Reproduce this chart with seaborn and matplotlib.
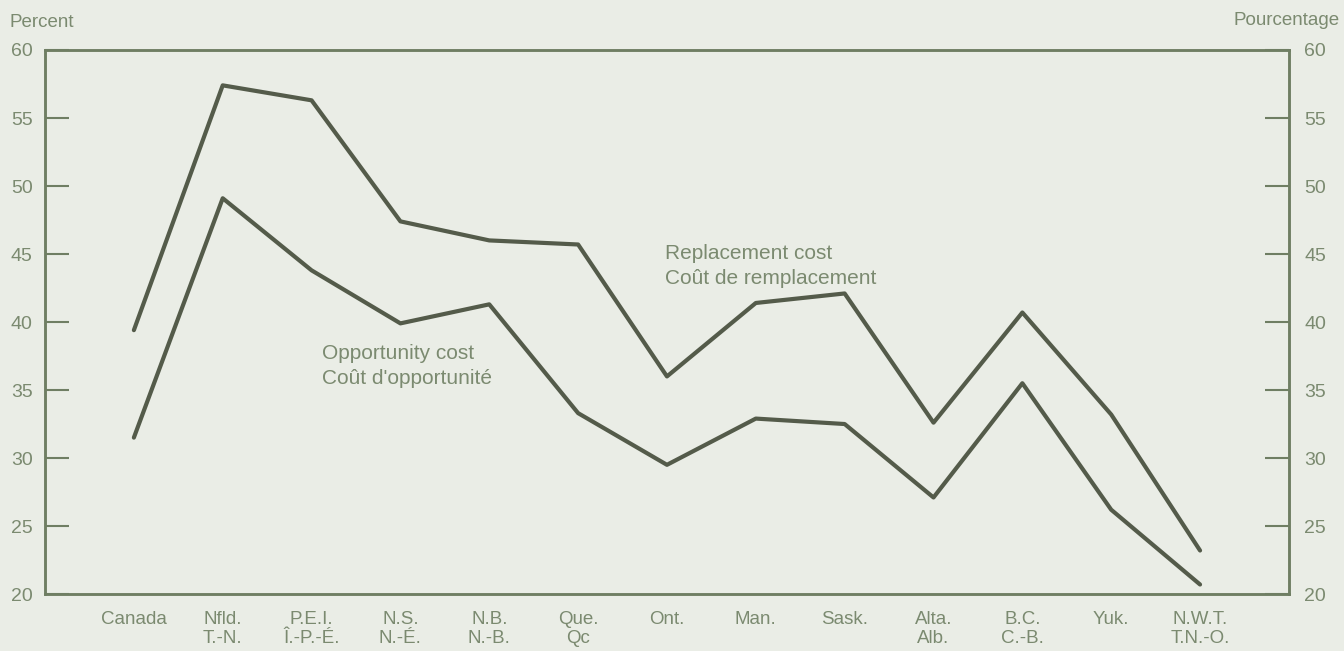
import pandas as pd
import seaborn as sns
import matplotlib.pyplot as plt

provinces = ["Canada", "Nfld.\nT.-N.", "P.E.I.\nÎ.-P.-É.", "N.S.\nN.-É.", "N.B.\nN.-B.",
             "Que.\nQc", "Ont.", "Man.", "Sask.", "Alta.\nAlb.", "B.C.\nC.-B.", "Yuk.",
             "N.W.T.\nT.N.-O."]
replacement_cost = [39.4, 57.4, 56.3, 47.4, 46.0, 45.7, 36.0, 41.4, 42.1, 32.6, 40.7, 33.2, 23.2]
opportunity_cost = [31.5, 49.1, 43.8, 39.9, 41.3, 33.3, 29.5, 32.9, 32.5, 27.1, 35.5, 26.2, 20.7]
y_ticks = [20, 25, 30, 35, 40, 45, 50, 55, 60]

BG = "#eaede6"
LINE = "#545b4a"
AXIS = "#6f7e63"
TEXT = "#7b8a70"

sns.set_theme(style="white")
plt.rcParams["font.family"] = ["Liberation Sans", "DejaVu Sans"]

df = pd.DataFrame({
    "pos": list(range(len(provinces))) * 2,
    "value": replacement_cost + opportunity_cost,
    "series": ["Replacement"] * len(provinces) + ["Opportunity"] * len(provinces),
})

fig = plt.figure(figsize=(13.44, 6.51), dpi=100, facecolor=BG)
ax = fig.add_axes([0.0335, 0.0875, 0.9255, 0.8357], facecolor=BG)

sns.lineplot(data=df, x="pos", y="value", units="series", estimator=None,
             color=LINE, linewidth=3.0, sort=False, ax=ax, legend=False)

ax.set_xlim(-1, 13)
ax.set_ylim(20, 60)
ax.set_xticks(range(len(provinces)))
ax.set_xticklabels(provinces, fontsize=13.5, color=TEXT, linespacing=1.2)
ax.set_yticks(y_ticks)
ax.set_yticklabels([str(t) for t in y_ticks], fontsize=14, color=TEXT)
ax.tick_params(axis="x", direction="in", length=15, width=1.5, color=AXIS, pad=12)
ax.tick_params(axis="y", direction="in", length=17, width=1.5, color=AXIS, pad=9)
ax.set_xlabel("")
ax.set_ylabel("")
for s in ax.spines.values():
    s.set_color(AXIS)
    s.set_linewidth(1.8)

ax2 = ax.twinx()
ax2.set_ylim(20, 60)
ax2.set_yticks(y_ticks)
ax2.set_yticklabels([str(t) for t in y_ticks], fontsize=14, color=TEXT)
ax2.tick_params(axis="y", direction="in", length=17, width=1.5, color=AXIS, pad=11)
for s in ax2.spines.values():
    s.set_color(AXIS)
    s.set_linewidth(1.8)

fig.text(0.007, 0.966, "Percent", fontsize=13.5, color=TEXT, va="center", ha="left")
fig.text(0.997, 0.968, "Pourcentage", fontsize=13.5, color=TEXT, va="center", ha="right")

ax.text(5.98, 44.1, "Replacement cost\nCoût de remplacement", fontsize=15, color=TEXT,
        ha="left", va="center", linespacing=1.4)
ax.text(2.12, 36.8, "Opportunity cost\nCoût d'opportunité", fontsize=15, color=TEXT,
        ha="left", va="center", linespacing=1.4)

fig.savefig("out.png", dpi=100, facecolor=BG)
